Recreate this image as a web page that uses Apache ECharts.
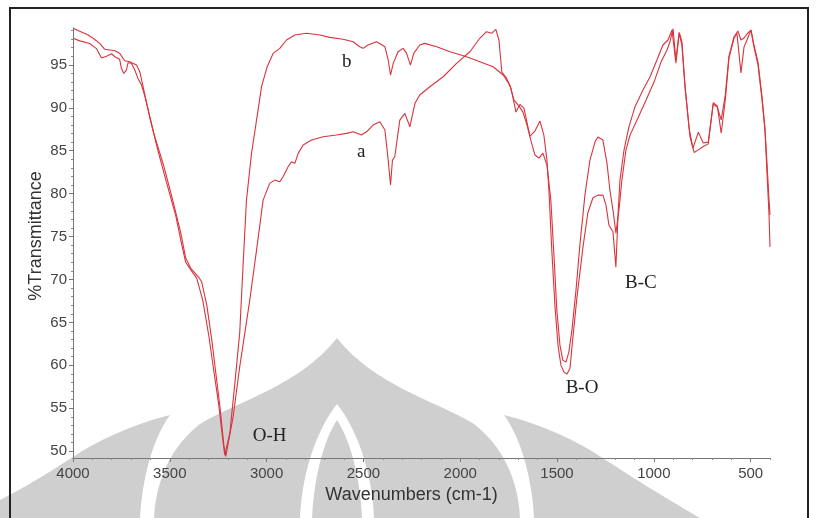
<!DOCTYPE html>
<html>
<head>
<meta charset="utf-8">
<script src="https://cdn.jsdelivr.net/npm/echarts@6/dist/echarts.min.js"></script>
<style>
  html, body { margin: 0; padding: 0; background: #fff; }
  #chart { width: 816px; height: 518px; }
</style>
</head>
<body>
<div id="chart"></div>
<script>
// FTIR spectra: wavenumber (cm-1) against %Transmittance for samples a and b
const wavenumberA = [4000,3965,3914,3879,3853,3827,3801,3784,3759,3750,3738,3724,3716,3698,3681,3664,3646,3629,3583,3531,3485,3443,3418,3392,3351,3335,3309,3283,3263,3242,3221,3211,3173,3139,3087,3052,3018,2984,2958,2932,2915,2889,2872,2854,2837,2811,2768,2708,2639,2587,2553,2510,2484,2450,2415,2389,2372,2360,2350,2338,2312,2286,2260,2234,2209,2157,2088,2019,1950,1899,1864,1838,1816,1800,1785,1764,1738,1712,1692,1671,1640,1614,1588,1568,1552,1542,1527,1511,1495,1480,1464,1449,1433,1423,1397,1366,1341,1315,1289,1263,1247,1232,1211,1196,1185,1175,1154,1129,1098,1056,1020,984,953,927,906,886,869,855,839,813,792,770,745,719,693,672,652,631,612,586,571,550,534,519,498,483,462,441,426,415,405,400];
const transmittanceA = [98.1,97.8,97.5,96.9,95.8,96.0,96.3,95.95,95.65,94.6,94.0,94.4,95.25,95.2,94.4,93.4,92.65,91.37,87.06,83.21,79.25,75.4,72.49,71.3,70.28,69.7,67.01,62.93,59.2,55.36,50.7,49.4,54.0,59.82,67.6,73.42,79.25,81.2,81.58,81.38,81.97,83.13,83.71,83.53,84.69,85.66,86.24,86.63,86.83,87.02,87.21,86.83,87.21,87.99,88.38,87.41,83.91,81.0,83.91,84.3,88.57,89.35,87.79,90.52,91.49,92.46,93.62,95.18,96.53,98.1,98.87,98.68,99.15,97.9,94.17,93.59,92.3,89.5,90.4,89.97,86.7,87.29,88.46,86.83,83.9,80.4,73.42,67.01,62.35,60.02,59.21,58.97,59.67,62.12,67.95,73.77,77.74,79.49,79.83,79.83,78.67,76.34,75.52,71.44,77.5,81.58,85.08,87.76,90.09,92.07,93.59,95.57,97.32,97.9,99.06,95.2,98.7,97.3,92.4,86.6,84.8,85.1,85.5,85.8,90.6,90.2,87.06,90.9,95.8,98.1,98.7,94.05,97.1,97.9,99.06,97.1,95.0,90.9,87.4,82.2,77.5,73.8];

const wavenumberB = [4000,3922,3896,3862,3836,3784,3759,3733,3707,3672,3655,3638,3604,3562,3516,3469,3438,3418,3387,3361,3330,3299,3273,3247,3226,3216,3190,3164,3139,3122,3104,3078,3052,3026,2997,2966,2932,2897,2854,2794,2725,2674,2605,2553,2519,2502,2476,2432,2389,2372,2360,2346,2321,2295,2277,2257,2240,2209,2183,2122,2053,1967,1899,1830,1778,1744,1722,1696,1676,1655,1635,1614,1593,1573,1552,1532,1516,1501,1485,1470,1454,1439,1423,1402,1382,1356,1330,1304,1289,1263,1242,1227,1211,1196,1180,1165,1144,1123,1082,1040,999,963,932,917,901,886,869,855,839,818,798,770,745,719,693,672,652,631,612,586,566,550,534,519,498,483,462,441,426,415,405,400];
const transmittanceB = [99.26,98.48,98.1,97.51,96.82,96.65,96.35,95.49,95.37,94.98,94.2,92.46,88.96,85.08,81.23,77.4,74.0,72.0,70.98,70.16,67.6,63.5,59.4,55.36,51.28,49.53,52.09,57.92,63.75,71.48,79.25,84.69,88.57,92.46,94.79,96.35,96.93,97.9,98.48,98.68,98.48,98.21,97.98,97.7,97.12,96.93,97.32,97.7,97.12,95.57,93.82,95.18,96.53,96.93,96.35,94.98,96.35,97.32,97.51,97.12,96.53,95.95,95.37,94.79,93.82,92.65,90.9,90.2,89.5,87.99,86.2,84.5,84.14,84.73,83.33,79.25,72.84,66.43,62.35,60.6,60.37,61.53,64.1,68.76,74.0,79.83,83.91,86.01,86.59,86.24,83.56,80.42,78.09,75.4,78.09,81.58,85.08,86.82,88.81,90.9,93.0,95.33,96.73,97.67,99.2,95.6,98.8,97.7,92.65,87.64,85.31,87.17,85.9,86.0,90.45,90.09,88.6,91.49,96.03,98.25,98.95,97.9,98.13,98.6,99.06,97.32,95.33,91.25,87.64,83.33,79.25,77.5];

// Axis ticks
const xMajorTicks = [4000, 3500, 3000, 2500, 2000, 1500, 1000, 500];
const xMinorTicks = [3900,3800,3700,3600,3400,3300,3200,3100,2900,2800,2700,2600,2400,2300,2200,2100,1900,1800,1700,1600,1400,1300,1200,1100,900,800,700,600,400];
const yMajorTicks = [50, 55, 60, 65, 70, 75, 80, 85, 90, 95];
const yMinorTicks = [51,52,53,54,56,57,58,59,61,62,63,64,66,67,68,69,71,72,73,74,76,77,78,79,81,82,83,84,86,87,88,89,91,92,93,94,96,97,98,99];

// Band assignments and curve labels: [text, wavenumber, %T]
const annotations = [
  ['b', 2586, 95.3],
  ['a', 2511, 84.85],
  ['O-H', 2984, 51.74],
  ['B-O', 1371, 57.34],
  ['B-C', 1067, 69.6]
];

const X_MIN = 400, X_MAX = 4000, Y_MIN = 49.2, Y_MAX = 99.3;
const lineColor = '#d9333d';
const tickFont = { fontFamily: 'Liberation Sans, Arial, sans-serif', fontSize: 15, color: '#444' };
const sealGray = '#cfcfcf';

function pairs(xs, ys) { return xs.map((x, i) => [x, ys[i]]); }

// Turn a simple absolute path (M, L, C, Z) into polygon points
function outline(d) {
  const tok = d.match(/[MLCZ]|-?\d+(\.\d+)?/g);
  const pts = [];
  let i = 0, cur = [0, 0];
  const num = () => parseFloat(tok[i++]);
  while (i < tok.length) {
    const c = tok[i++];
    if (c === 'M' || c === 'L') { cur = [num(), num()]; pts.push(cur); }
    else if (c === 'C') {
      const p1 = [num(), num()], p2 = [num(), num()], p3 = [num(), num()];
      const p0 = cur;
      for (let k = 1; k <= 16; k++) {
        const t = k / 16, u = 1 - t;
        pts.push([
          u*u*u*p0[0] + 3*u*u*t*p1[0] + 3*u*t*t*p2[0] + t*t*t*p3[0],
          u*u*u*p0[1] + 3*u*u*t*p1[1] + 3*u*t*t*p2[1] + t*t*t*p3[1]
        ]);
      }
      cur = p3;
    }
  }
  return pts;
}

// Faint institutional seal printed behind the plot (lower half of the page)
const sealShapes = [
  // outer pointed dome
  ['M154,518 C156,478 172,446 200,424 C240,400 300,385 337,338 C374,385 434,400 474,424 C502,446 518,478 520,518 Z', sealGray],
  // left crescent wing
  ['M170,415 C130,425 95,442 73,457 C45,475 20,490 0,500 L0,518 L140,518 C142,480 152,440 170,415 Z', sealGray],
  // right crescent wing
  ['M504,415 C544,425 579,442 601,457 C629,475 660,495 700,518 L534,518 C532,480 522,440 504,415 Z', sealGray],
  // white pointed arch inside the dome
  ['M300,518 C302,470 318,428 337,404 C356,428 372,470 374,518 Z', '#ffffff'],
  // inner pointed core
  ['M312,518 C314,476 324,440 337,420 C350,440 360,476 362,518 Z', sealGray]
];

const graphics = sealShapes.map((s, k) => ({
  type: 'polygon', silent: true, z: -10 + k,
  shape: { points: outline(s[0]) },
  style: { fill: s[1] }
}));
graphics.push({
  type: 'rect', silent: true, z: 100,
  shape: { x: 10, y: 8, width: 798, height: 530 },
  style: { fill: 'none', stroke: '#222', lineWidth: 2 }
});

const chart = echarts.init(document.getElementById('chart'), null, { renderer: 'canvas' });

chart.setOption({
  animation: false,
  backgroundColor: '#fff',
  grid: { left: 73, right: 46, top: 28, bottom: 60 },
  xAxis: [
    {
      type: 'value', inverse: true, min: X_MIN, max: X_MAX,
      name: 'Wavenumbers (cm-1)', nameLocation: 'middle', nameGap: 28,
      nameTextStyle: {
        fontFamily: 'Liberation Sans, Arial, sans-serif', fontSize: 18, color: '#333',
        padding: [0, 20, 0, 0]
      },
      axisLine: { show: true, lineStyle: { color: '#777', width: 1 } },
      axisTick: { show: true, customValues: xMajorTicks, length: 4, lineStyle: { color: '#777' } },
      axisLabel: Object.assign({ customValues: xMajorTicks, margin: 8, formatter: v => String(v) }, tickFont),
      splitLine: { show: false }
    },
    {
      type: 'value', inverse: true, min: X_MIN, max: X_MAX, position: 'bottom',
      axisLine: { show: false },
      axisTick: { show: true, customValues: xMinorTicks, length: 2, lineStyle: { color: '#888' } },
      axisLabel: { show: false },
      splitLine: { show: false }
    }
  ],
  yAxis: [
    {
      type: 'value', min: Y_MIN, max: Y_MAX,
      name: '%Transmittance', nameLocation: 'middle', nameGap: 28, nameMoveOverlap: false,
      nameTextStyle: {
        fontFamily: 'Liberation Sans, Arial, sans-serif', fontSize: 18, color: '#333',
        padding: [0, 0, 0, 14]
      },
      axisLine: { show: true, lineStyle: { color: '#777', width: 1 } },
      axisTick: { show: true, customValues: yMajorTicks, length: 4, lineStyle: { color: '#777' } },
      axisLabel: Object.assign({ customValues: yMajorTicks, margin: 6, formatter: v => String(v) }, tickFont),
      splitLine: { show: false }
    },
    {
      type: 'value', min: Y_MIN, max: Y_MAX, position: 'left',
      axisLine: { show: false },
      axisTick: { show: true, customValues: yMinorTicks, length: 2, lineStyle: { color: '#888' } },
      axisLabel: { show: false },
      splitLine: { show: false }
    }
  ],
  series: [
    {
      name: 'a', type: 'line', data: pairs(wavenumberA, transmittanceA),
      showSymbol: false, symbol: 'none', clip: true,
      lineStyle: { color: lineColor, width: 1.1 },
      markPoint: {
        symbol: 'circle', symbolSize: 0,
        label: {
          show: true, position: 'inside', color: '#222',
          fontFamily: 'Liberation Serif, Times New Roman, serif', fontSize: 19,
          formatter: p => p.name
        },
        data: annotations.map(a => ({ name: a[0], coord: [a[1], a[2]] }))
      }
    },
    {
      name: 'b', type: 'line', data: pairs(wavenumberB, transmittanceB),
      showSymbol: false, symbol: 'none', clip: true,
      lineStyle: { color: lineColor, width: 1.1 }
    }
  ],
  graphic: graphics
});
</script>
</body>
</html>
